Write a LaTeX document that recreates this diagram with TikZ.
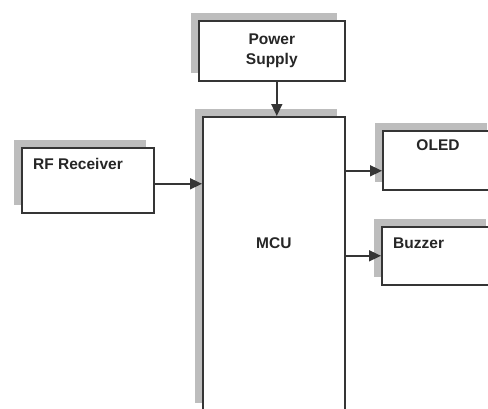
\documentclass[tikz,border=0pt]{standalone}
\usepackage{fontspec}
\setmainfont{Liberation Sans}
\usetikzlibrary{arrows.meta,shadows}

\definecolor{edgegray}{HTML}{353535}
\definecolor{shadegray}{HTML}{BDBDBD}

\begin{document}
\begin{tikzpicture}[
  x=1pt,y=-1pt,
  blockbox/.style={draw=edgegray,line width=1.6pt,fill=white,anchor=north west,
    inner sep=0pt,font=\bfseries\fontsize{15.5pt}{21pt}\selectfont,align=center,
    drop shadow={shadow xshift=-8pt,shadow yshift=8pt,fill=shadegray,opacity=1}},
  arr/.style={draw=edgegray,line width=1.6pt,-{Triangle[length=12pt,width=11pt]}},
  every label/.style={font=\bfseries\fontsize{15.5pt}{21pt}\selectfont,text=black!85},
]
  \useasboundingbox (0,0) rectangle (488,408);
  \clip (0,0) rectangle (488,408);

  % blocks
  \node[blockbox,minimum width=146pt,minimum height=60pt,text=black!85] (psu) at (198,20) {Power\\[-1pt]Supply};
  \node[blockbox,minimum width=132pt,minimum height=65pt,
    label={[anchor=west,xshift=8.7pt,yshift=-17pt]north west:RF Receiver}] (rf) at (21,147) {};
  \node[blockbox,minimum width=142pt,minimum height=294pt,
    label={[anchor=center,yshift=-127pt]north:MCU}] (mcu) at (202,116) {};
  \node[blockbox,minimum width=112pt,minimum height=59pt,
    label={[anchor=center,xshift=56pt,yshift=-15pt]north west:OLED}] (oled) at (382,130) {};
  \node[blockbox,minimum width=112pt,minimum height=58pt,
    label={[anchor=west,xshift=8.7pt,yshift=-17pt]north west:Buzzer}] (buzz) at (381,226) {};

  % connections
  \draw[arr] ([xshift=5pt]psu.south) -- ([xshift=5pt]psu.south |- mcu.north);
  \draw[arr] ([yshift=-3.5pt]rf.east) -- ([yshift=-3.5pt]rf.east -| mcu.west);
  \draw[arr] ([yshift=-10.5pt]oled.west -| mcu.east) -- ([yshift=-10.5pt]oled.west);
  \draw[arr] (buzz.west -| mcu.east) -- (buzz.west);
\end{tikzpicture}
\end{document}
